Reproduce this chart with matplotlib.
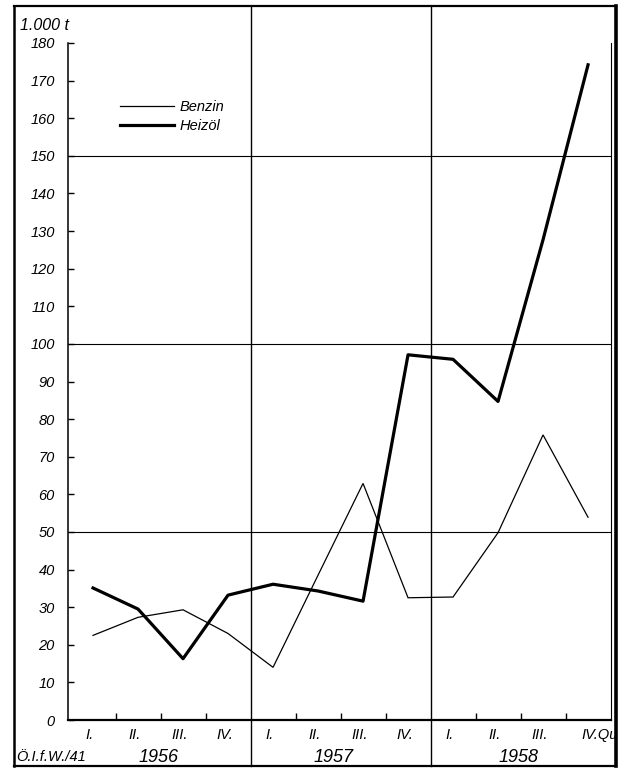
import matplotlib
matplotlib.use("Agg")
import matplotlib.pyplot as plt
from matplotlib.lines import Line2D
import numpy as np

plt.rcParams['font.family'] = ['Liberation Sans', 'DejaVu Sans']

# ---- data ----
quarter_labels = ['I.', 'II.', 'III.', 'IV.', 'I.', 'II.', 'III.', 'IV.', 'I.', 'II.', 'III.', 'IV.Qu']
years = ['1956', '1957', '1958']
benzin = [22.5, 27.3, 29.3, 23.0, 14.0, 38.5, 62.9, 32.5, 32.7, 49.8, 75.8, 53.9]
heizoel = [35.1, 29.5, 16.3, 33.2, 36.1, 34.3, 31.6, 97.1, 95.9, 84.7, 127.7, 174.2]
series_names = ['Benzin', 'Heizöl']
y_ticks = list(range(0, 181, 10))
grid_levels = [50, 100, 150]
unit_label = '1.000 t'
source_label = 'Ö.I.f.W./41'

W, H = 621, 768
fig = plt.figure(figsize=(W / 100, H / 100), dpi=100)
ax_l, ax_r, ax_b, ax_t = 68, 611, 720, 43
ax = fig.add_axes([ax_l / W, 1 - ax_b / H, (ax_r - ax_l) / W, (ax_b - ax_t) / H])

x = np.arange(len(benzin))
ax.set_xlim(-0.556, 11.51)
ax.set_ylim(0, 180)

ax.plot(x, benzin, color='black', lw=0.9, label=series_names[0], solid_joinstyle='miter')
ax.plot(x, heizoel, color='black', lw=2.3, label=series_names[1], solid_joinstyle='round')

for g in grid_levels:
    ax.axhline(g, color='black', lw=0.8)

ah = ax_b - ax_t
for xb in [3.5, 7.5]:
    ax.axvline(xb, ymin=(ax_b - 766) / ah, ymax=(ax_b - 6) / ah, color='black', lw=1.0, clip_on=False)

# spines
ax.spines['top'].set_visible(False)
ax.spines['left'].set_linewidth(1.1)
ax.spines['bottom'].set_linewidth(1.6)
ax.spines['right'].set_linewidth(0.8)

# y ticks
ax.set_yticks(y_ticks)
ax.set_yticklabels([str(v) for v in y_ticks], fontstyle='italic', fontsize=10.5)
ax.tick_params(axis='y', direction='in', length=4, width=1, pad=9.5)

# x ticks: minor inward ticks between quarters (not at year boundaries)
ax.set_xticks([])
minor = [0.5, 1.5, 2.5, 4.5, 5.5, 6.5, 8.5, 9.5, 10.5]
ax.set_xticks(minor, minor=True)
ax.tick_params(axis='x', which='minor', direction='in', length=5, width=1)

trans = ax.get_xaxis_transform()
qy = (ax_b - 735) / ah
yy = (ax_b - 757) / ah
for i, lab in enumerate(quarter_labels):
    if lab == 'IV.Qu':
        ax.text(i - 0.14, qy, lab, transform=trans, ha='left', va='center',
                fontstyle='italic', fontsize=10.5, clip_on=False)
    else:
        ax.text(i - 0.07, qy, lab, transform=trans, ha='center', va='center',
                fontstyle='italic', fontsize=10.5)
for k, yl in enumerate(years):
    xc = 4 * k + 1.5 + [-0.05, -0.15, -0.05][k]
    ax.text(xc, yy, yl, transform=trans, ha='center', va='center',
            fontstyle='italic', fontsize=13)

ax.text((16 - ax_l) / (ax_r - ax_l), yy, source_label, transform=ax.transAxes,
        ha='left', va='center', fontstyle='italic', fontsize=10.5)
ax.text((20 - ax_l) / (ax_r - ax_l), (ax_b - 25) / ah, unit_label, transform=ax.transAxes,
        ha='left', va='center', fontstyle='italic', fontsize=11.5)

leg = ax.legend(loc='upper left', bbox_to_anchor=((120 - ax_l) / (ax_r - ax_l), (ax_b - 100) / ah),
                frameon=False, borderpad=0, borderaxespad=0, handlelength=3.7,
                handletextpad=0.4, labelspacing=0.35,
                prop={'style': 'italic', 'size': 10.5})

# outer frame
def fline(x0, y0, x1, y1, lw):
    fig.add_artist(Line2D([x0 / W, x1 / W], [1 - y0 / H, 1 - y1 / H], color='black', lw=lw))

fline(14, 6, 616, 6, 1.6)
fline(14, 766, 616, 766, 1.6)
fline(14, 6, 14, 766, 1.8)
fline(615.5, 6, 615.5, 766, 2.6)

fig.savefig('out.png', dpi=100, facecolor='white')
